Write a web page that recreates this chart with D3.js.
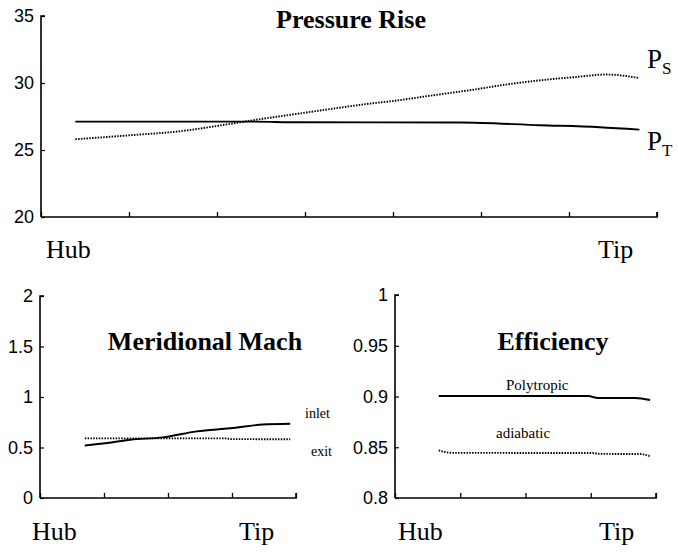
<!DOCTYPE html>
<html>
<head>
<meta charset="utf-8">
<script src="https://cdn.jsdelivr.net/npm/d3@7"></script>
<style>
  body { margin: 0; background: #fff; }
  svg text { fill: #000; }
  .num { font-family: "Liberation Sans", Arial, sans-serif; font-size: 18px; }
  .serif { font-family: "Liberation Serif", "Times New Roman", serif; }
</style>
</head>
<body>
<div class="board"></div>
<script>
// span positions are in tick units (Hub = 0)
// pressure rise, top panel
var presTicks = [20, 25, 30, 35];
var psX = [0.39, 1.01, 1.58, 2.15, 2.52, 2.91, 3.28, 3.66, 4.05, 4.42, 4.91, 5.30, 5.67, 6.05, 6.43, 6.80];
var psY = [25.8, 26.1, 26.4, 26.95, 27.33, 27.7, 28.05, 28.4, 28.7, 29.05, 29.5, 29.9, 30.2, 30.43, 30.63, 30.37];
var ptX = [0.39, 2.37, 2.94, 4.76, 5.67, 6.35, 6.80];
var ptY = [27.12, 27.12, 27.07, 27.05, 26.85, 26.7, 26.52];

// meridional mach, bottom left
var machTicks = [0, 0.5, 1, 1.5, 2];
var inletX = [0.70, 1.05, 1.41, 1.92, 2.45, 2.97, 3.48, 3.91];
var inletY = [0.52, 0.545, 0.577, 0.60, 0.66, 0.69, 0.727, 0.735];
var exitX = [0.70, 2.9, 3.0, 3.91];
var exitY = [0.59, 0.59, 0.583, 0.582];

// efficiency, bottom right
var effTicks = [0.8, 0.85, 0.9, 0.95, 1];
var polyX = [0.67, 2.96, 3.11, 3.68, 3.91];
var polyY = [0.9005, 0.9005, 0.8985, 0.8985, 0.8965];
var adiaX = [0.67, 0.87, 3.03, 3.14, 3.75, 3.91];
var adiaY = [0.847, 0.8445, 0.8443, 0.8435, 0.8433, 0.8412];

var svg = d3.select(".board").append("svg")
  .attr("width", 678)
  .attr("height", 553);

function panel(opt) {
  var x = d3.scaleLinear().domain([0, opt.nx]).range([opt.left, opt.right]);
  var y = d3.scaleLinear().domain(opt.yDomain).range([opt.bottom, opt.top]);
  var g = svg.append("g");

  // x axis, ticks point up, no labels
  g.append("g")
    .attr("transform", "translate(0," + opt.bottom + ")")
    .call(d3.axisBottom(x).ticks(opt.nx).tickSize(-5).tickFormat(""))
    .call(function(a) {
      a.select(".domain").attr("d", "M" + opt.left + ",0H" + opt.right + "V-5")
        .attr("stroke-width", 1.6);
      a.selectAll(".tick line").attr("stroke-width", 1.3);
    });

  // y axis, small inner ticks
  g.append("g")
    .attr("transform", "translate(" + opt.left + ",0)")
    .call(d3.axisLeft(y).tickValues(opt.yTicks).tickSize(-4).tickPadding(7)
      .tickFormat(function(d) { return d3.format("")(+d.toFixed(2)); }))
    .call(function(a) {
      a.select(".domain").attr("d", "M4," + opt.top + "H0V" + opt.bottom)
        .attr("stroke-width", 1.6);
      a.selectAll(".tick line").attr("stroke-width", 1.2);
      a.selectAll(".tick text").attr("class", "num").attr("fill", "#000");
    });

  opt.series.forEach(function(s) {
    var pts = s.x.map(function(v, i) { return [v, s.y[i]]; });
    g.append("path")
      .datum(pts)
      .attr("fill", "none")
      .attr("stroke", "#000")
      .attr("stroke-width", s.dotted ? 1.9 : 1.9)
      .attr("stroke-dasharray", s.dotted ? "1.5,1.3" : null)
      .attr("d", d3.line()
        .x(function(d) { return x(d[0]); })
        .y(function(d) { return y(d[1]); })
        .curve(d3.curveMonotoneX));
  });

  g.append("text").attr("class", "serif")
    .attr("x", opt.title[0]).attr("y", opt.title[1])
    .attr("text-anchor", "middle")
    .attr("font-weight", "bold").attr("font-size", 26)
    .text(opt.title[2]);

  g.append("text").attr("class", "serif")
    .attr("x", opt.hub[0]).attr("y", opt.hub[1])
    .attr("font-size", 26).text("Hub");
  g.append("text").attr("class", "serif")
    .attr("x", opt.tip[0]).attr("y", opt.tip[1])
    .attr("font-size", 26).text("Tip");
  return g;
}

var presPanel = panel({
  left: 41, right: 657, top: 16, bottom: 217, nx: 7,
  yDomain: [20, 35], yTicks: presTicks,
  series: [{x: psX, y: psY, dotted: true}, {x: ptX, y: ptY}],
  title: [351, 28, "Pressure Rise"],
  hub: [46, 258], tip: [598, 258]
});

function subLabel(g, px, py, sub) {
  var t = g.append("text").attr("class", "serif")
    .attr("x", px).attr("y", py).attr("font-size", 27);
  t.append("tspan").text("P");
  t.append("tspan").attr("font-size", 17).attr("dy", 6).text(sub);
}
subLabel(presPanel, 647, 68, "S");
subLabel(presPanel, 647, 150, "T");

var machPanel = panel({
  left: 40, right: 296, top: 296, bottom: 498, nx: 4,
  yDomain: [0, 2], yTicks: machTicks,
  series: [{x: exitX, y: exitY, dotted: true}, {x: inletX, y: inletY}],
  title: [205, 350, "Meridional Mach"],
  hub: [32, 540], tip: [239, 540]
});
machPanel.append("text").attr("class", "serif").attr("font-size", 14)
  .attr("x", 305).attr("y", 418).text("inlet");
machPanel.append("text").attr("class", "serif").attr("font-size", 14)
  .attr("x", 311).attr("y", 456).text("exit");

var effPanel = panel({
  left: 395, right: 656, top: 295, bottom: 498, nx: 4,
  yDomain: [0.8, 1], yTicks: effTicks,
  series: [{x: adiaX, y: adiaY, dotted: true}, {x: polyX, y: polyY}],
  title: [553, 350, "Efficiency"],
  hub: [398, 540], tip: [599, 540]
});
effPanel.append("text").attr("class", "serif").attr("font-size", 15)
  .attr("x", 506).attr("y", 390).text("Polytropic");
effPanel.append("text").attr("class", "serif").attr("font-size", 15)
  .attr("x", 496).attr("y", 438).text("adiabatic");
</script>
</body>
</html>
